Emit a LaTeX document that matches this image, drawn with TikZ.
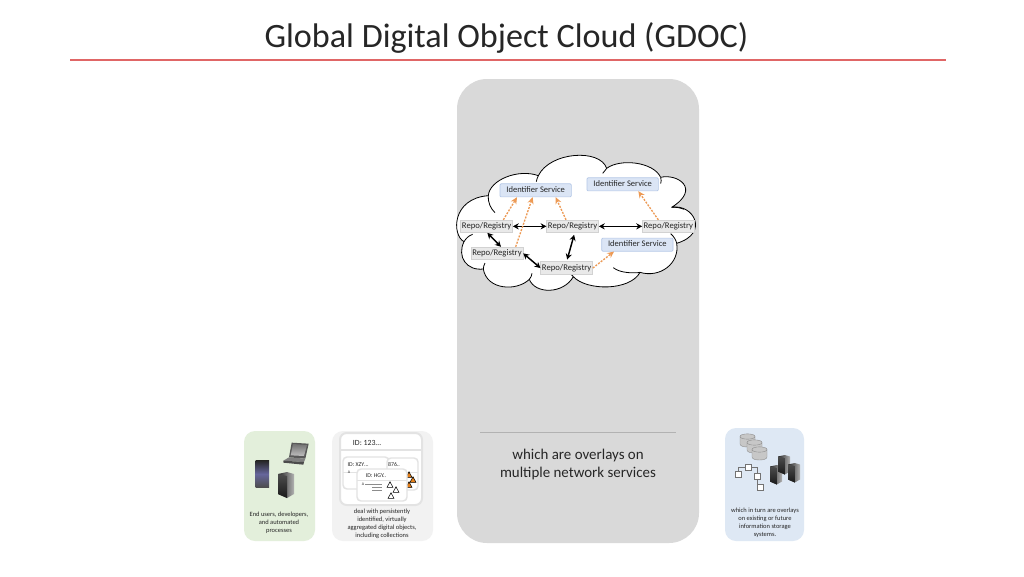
\documentclass[tikz,border=0pt]{standalone}
\usepackage{fontspec}
\setmainfont{Carlito}
\usetikzlibrary{arrows.meta,shadings}
\definecolor{panelgray}{HTML}{D9D9D9}
\definecolor{panelgreen}{HTML}{E3EFDB}
\definecolor{panelwhite}{HTML}{F2F2F2}
\definecolor{panelblue}{HTML}{DEE8F4}
\definecolor{titlered}{HTML}{E06666}
\definecolor{orangearrow}{HTML}{ED9A55}
\definecolor{idfill}{HTML}{DBE5F5}
\definecolor{idline}{HTML}{B4C7E7}
\definecolor{repofill}{HTML}{E9E9E9}
\definecolor{txt}{HTML}{262626}
\tikzset{
  panel/.style={rounded corners=11*0.75pt,draw=none},
  reponode/.style={fill=repofill,draw=repofill!90!black,line width=.3pt,inner sep=0pt,minimum width=39pt,minimum height=9.5pt,text=txt,font=\fontsize{6.5}{7}\selectfont,text height=4.6pt,text depth=1.3pt},
  idnode/.style={fill=idfill,draw=idline,line width=.5pt,rounded corners=.8pt,inner sep=0pt,minimum width=53.5pt,minimum height=9.8pt,text=txt,font=\fontsize{6.4}{7}\selectfont,text height=4.6pt,text depth=1.3pt},
  linkarrow/.style={line width=1.1pt,black,{Stealth[length=4.4pt,width=4.6pt]}-{Stealth[length=4.4pt,width=4.6pt]}},
  svcarrow/.style={line width=1pt,orangearrow,dash pattern=on 1.5pt off 1pt,-{Stealth[length=5pt,width=4.6pt]}},
  smalltext/.style={align=center,text=txt,font=\fontsize{4.85}{5.9}\selectfont},
  card/.style={fill=white,draw=black!11,line width=1.1pt,rounded corners=3pt},
  cardid/.style={text=txt,font=\fontsize{4.4}{5}\selectfont,inner sep=0pt},
  cloudline/.style={draw=black,line width=.6pt},
  tri/.style={draw=black,line width=.4pt,line join=miter},
  treebox/.style={draw=black!55,fill=white,line width=.35pt,minimum size=4.5pt,inner sep=0pt},
  cyl/.style={draw=black!45,line width=.3pt,fill=black!22},
}
\newcommand{\towericon}[2]{
  \begin{scope}[shift={#1},scale=#2]
    \shade[left color=black!85,right color=black!30] (0,2) -- (9,0) -- (16,2) -- (16,22) -- (9,26) -- (0,22) -- cycle;
    \shade[top color=black!70,bottom color=black!90] (0,2) -- (9,4) -- (9,26) -- (0,22) -- cycle;
  \end{scope}}
\newcommand{\triicon}[2]{\draw[tri,fill=#2] (#1) ++(0,-3.2) -- ++(3,5.6) -- ++(-6,0) -- cycle;}
\newcommand{\cylicon}[1]{
  \begin{scope}[shift={#1}]
    \path[cyl] (0,2.5) -- (0,10) .. controls (0,14) and (15,14) .. (15,10) -- (15,2.5) .. controls (15,-1) and (0,-1) .. (0,2.5) -- cycle;
    \draw[draw=black!45,line width=.3pt] (0,2.5) .. controls (0,6) and (15,6) .. (15,2.5);
  \end{scope}}
\begin{document}
\begin{tikzpicture}[x=0.75pt,y=-0.75pt]
\useasboundingbox (0,0) rectangle (1024,576);
\fill[white] (0,0) rectangle (1024,576);

% title
\node[text=black!85,font=\fontsize{25.6}{28}\selectfont,inner sep=0pt] (title) at (506.5,37.5) {Global Digital Object Cloud (GDOC)};
\coordinate (ruleL) at (70,60);
\coordinate (ruleR) at (946,60);
\draw[titlered,line width=.9pt] (ruleL) -- (ruleR);

% panels
\fill[panelgray,rounded corners=22.5pt] (457,79) rectangle (699,543);
\fill[panelgreen,panel] (244,431) rectangle (315,541);
\fill[panelwhite,panel] (332,431) rectangle (433,541);
\fill[panelblue,panel] (725,428) rectangle (804,541);

% cloud (coordinates of a 3x enlargement)
\begin{scope}[shift={(450,145)},x=0.25pt,y=-0.25pt]
  \path[fill=white,cloudline,line join=round]
    (115,152) .. controls (118,105) and (205,70) .. (265,92)
    .. controls (300,20) and (450,10) .. (470,70)
    .. controls (510,40) and (610,50) .. (632,97)
    .. controls (680,85) and (755,130) .. (665,187)
    .. controls (730,175) and (780,265) .. (680,295)
    .. controls (690,355) and (630,400) .. (570,382)
    .. controls (540,438) and (410,438) .. (370,395)
    .. controls (340,448) and (255,448) .. (238,403)
    .. controls (200,440) and (110,435) .. (100,372)
    .. controls (50,378) and (20,335) .. (42,290)
    .. controls (5,270) and (5,160) .. (115,152)
    -- cycle;
  \draw[cloudline] (115,152) .. controls (114,175) and (122,190) .. (135,203);
  \draw[cloudline] (42,290) .. controls (48,280) and (56,272) .. (68,268);
  \draw[cloudline] (265,92) .. controls (262,98) and (260,104) .. (259,110);
  \draw[cloudline] (470,70) .. controls (466,76) and (462,80) .. (458,85);
  \draw[cloudline] (632,97) .. controls (634,104) and (634,110) .. (632,116);
  \draw[cloudline] (665,187) .. controls (678,186) and (690,188) .. (702,193);
  \draw[cloudline] (680,295) .. controls (678,285) and (672,275) .. (662,266);
  \draw[cloudline] (570,382) .. controls (555,385) and (510,385) .. (490,368);
  \draw[cloudline] (370,395) .. controls (362,388) and (358,382) .. (355,376);
  \draw[cloudline] (238,403) .. controls (243,397) and (245,392) .. (246,385);
  \draw[cloudline] (100,372) .. controls (100,366) and (102,360) .. (105,354);

  \node[idnode] (id1) at (257,136) {Identifier Service};
  \node[idnode] (id2) at (518,118) {Identifier Service};
  \node[idnode] (id3) at (562,299) {Identifier Service};
  \node[reponode] (r1) at (110,244) {Repo/Registry};
  \node[reponode] (r2) at (368,244) {Repo/Registry};
  \node[reponode] (r3) at (655,244) {Repo/Registry};
  \node[reponode] (r4) at (141,325) {Repo/Registry};
  \node[reponode] (r5) at (350,369) {Repo/Registry};

  \draw[linkarrow] (r1.east) -- (r2.west);
  \draw[linkarrow] (r2.east) -- (r3.west);
  \draw[linkarrow] ([xshift=.5pt]r1.south) -- ([xshift=3pt]r4.north);
  \draw[linkarrow] (r4.east) -- (r5.west);
  \draw[linkarrow,shorten <=1.5pt,shorten >=1.5pt] ([xshift=1.5pt]r2.south) -- ([xshift=0pt]r5.north);

  \draw[svcarrow] ([xshift=12.5pt]r1.north) -- ([xshift=-14pt]id1.south);
  \draw[svcarrow] ([xshift=14pt]r4.north) -- ([xshift=-2.25pt]id1.south);
  \draw[svcarrow] ([xshift=-5pt]r2.north) -- ([xshift=15pt]id1.south);
  \draw[svcarrow] ([xshift=-7.5pt]r3.north) -- ([xshift=11.75pt]id2.south);
  \draw[svcarrow] (r5.east) -- ([xshift=-17.5pt]id3.south);
\end{scope}

\coordinate (sepL) at (480,432);
\coordinate (sepR) at (676,432);
\draw[black!30,line width=.65pt] (sepL) -- (sepR);
\node[align=center,text=txt,font=\fontsize{11.2}{14}\selectfont] (overlay) at (578,464.5) {which are overlays on\\multiple network services};

% left panel
\begin{scope}[shift={(240,430)},x=0.25pt,y=-0.25pt]
  \fill[black!65] (155,38) -- (206,41) -- (196,86) -- (147,82) -- cycle;
  \shade[top color=black!55,bottom color=black!25] (159,42) -- (201,45) -- (192,78) -- (152,76) -- cycle;
  \fill[black!50] (147,82) -- (196,86) -- (192,96) -- (130,92) -- cycle;
  \fill[black!70] (130,92) -- (192,96) -- (190,104) -- (130,98) -- cycle;
  \shade[top color=black!85,bottom color=black!70,middle color=blue!35!black!60] (47,92) rectangle (87,172);
\end{scope}
\towericon{(278,472)}{1}
\node[smalltext] (lefttext) at (279,523) {End users, developers,\\and automated\\processes};

% card panel
\draw[card,line width=1.5pt,rounded corners=5pt] (340,433) rectangle (422,505);
\draw[black!11,line width=1.2pt] (340,450) -- (422,450);
\node[cardid,font=\fontsize{5.9}{6}\selectfont] (idA) at (367,443) {ID: 123…};
\draw[card] (343,457) rectangle (389,489);
\draw[black!11,line width=.6pt] (343,472) -- (389,472);
\node[cardid] (idB) at (358,465) {ID: XZY…};
\node[cardid,font=\fontsize{3}{3}\selectfont] at (349,472) {A};
\draw[card] (387,458) rectangle (418,490);
\draw[black!11,line width=.6pt] (387,472) -- (418,472);
\node[cardid] (idC) at (394,465) {876..};
\triicon{409,475}{orange!60!brown}
\triicon{413,480}{orange!60!brown}
\triicon{409,485}{orange!60!brown}
\draw[card] (357,469) rectangle (407,501);
\draw[black!11,line width=.6pt] (357,480) -- (407,480);
\node[cardid] (idD) at (376,476) {ID: HGY..};
\node[cardid,font=\fontsize{3}{3}\selectfont] at (363,484.5) {A};
\draw[black!45,line width=.3pt] (365,484.5) -- (382,484.5) (372,487) -- (382,487) (372,490) -- (382,490);
\triicon{390,485}{white}
\triicon{396,490}{white}
\triicon{391,496}{white}
\node[smalltext] (midtext) at (382,524) {deal with persistently\\identified, virtually\\aggregated digital objects,\\including collections};

% right panel
\cylicon{(740,434)}
\cylicon{(747,440)}
\cylicon{(752,447)}
\node[treebox] (t1) at (748,467.5) {};
\node[treebox] (t2) at (738,474.5) {};
\node[treebox] (t3) at (757,476.5) {};
\node[treebox] (t4) at (760,487.5) {};
\draw[black!55,line width=.35pt] (t2.north) |- (t1.west);
\draw[black!55,line width=.35pt] (t1.east) -| (t3.north);
\draw[black!55,line width=.35pt] (t3.south) |- (t4.west);
\towericon{(770,465)}{.75}
\towericon{(778,455)}{.75}
\towericon{(788,463)}{.75}
\node[smalltext] (righttext) at (765,523) {which  in turn are overlays\\on  existing or future\\information storage\\systems.};
\end{tikzpicture}
\end{document}
